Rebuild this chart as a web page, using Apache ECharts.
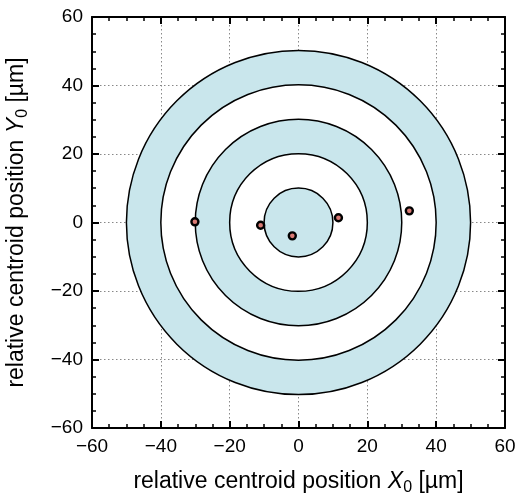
<!DOCTYPE html>
<html>
<head>
<meta charset="utf-8">
<script src="https://cdn.jsdelivr.net/npm/echarts@6/dist/echarts.min.js"></script>
<style>
  body { margin: 0; background: #fff; }
  #chart { width: 517px; height: 496px; }
</style>
</head>
<body>
<div id="chart"></div>
<script>
// ring radii (um), outer first so inner ones paint over
var ringRadii = [50, 40, 30, 20, 10];
var ringFills = ['#c9e6ec', '#ffffff', '#c9e6ec', '#ffffff', '#c9e6ec'];
// measured centroid positions [X0, Y0]
var centroidX = [-30.1, -11.0, -1.8, 11.6, 32.2];
var centroidY = [0.2, -0.8, -3.9, 1.4, 3.4];

var minus = function (v) { return String(v).replace('-', '\u2212'); };

var chart = echarts.init(document.getElementById('chart'));

function axisBase(pos, show) {
  return {
    type: 'value', position: pos, min: -60, max: 60, interval: 20,
    axisLine: { show: true, onZero: false, lineStyle: { color: '#000', width: 2 } },
    axisTick: { show: true, inside: true, length: 7, lineStyle: { color: '#000', width: 2 } },
    minorTick: { show: true, splitNumber: 4, length: 4, lineStyle: { color: '#000', width: 1.5 } },
    axisLabel: { show: show, color: '#000', fontSize: 19, fontFamily: 'Liberation Sans', formatter: minus, margin: 9 },
    splitLine: { show: show, lineStyle: { color: '#888', type: [1.5, 2.5], width: 1 } }
  };
}

var titleRich = {
  a: { fontSize: 23, fontFamily: 'Liberation Sans', color: '#000' },
  i: { fontSize: 23, fontFamily: 'Liberation Sans', fontStyle: 'italic', color: '#000' },
  s: { fontSize: 16, fontFamily: 'Liberation Sans', color: '#000', verticalAlign: 'bottom', padding: [12, 0, 0, 0] }
};

var xb = axisBase('bottom', true);
xb.name = '{a|relative centroid position }{i|X}{s|0}{a| [µm]}';
xb.nameLocation = 'middle';
xb.nameGap = 40;
xb.nameTextStyle = { rich: titleRich };

var yl = axisBase('left', true);
yl.name = '{a|relative centroid position }{i|Y}{s|0}{a| [µm]}';
yl.nameLocation = 'middle';
yl.nameGap = 61;
yl.nameTextStyle = { rich: titleRich };

chart.setOption({
  animation: false,
  grid: { left: 92, top: 17, width: 413, height: 411, outerBoundsMode: 'none', containLabel: false },
  xAxis: [xb, axisBase('top', false)],
  yAxis: [yl, axisBase('right', false)],
  series: [
    {
      type: 'custom',
      z: 2,
      data: ringRadii.map(function (r, i) { return [0, 0, r, i]; }),
      renderItem: function (params, api) {
        var c = api.coord([api.value(0), api.value(1)]);
        var rx = api.size([api.value(2), 0])[0];
        return {
          type: 'circle',
          shape: { cx: c[0], cy: c[1], r: rx },
          style: { fill: ringFills[api.value(3)], stroke: '#000', lineWidth: 1.5 }
        };
      }
    },
    {
      type: 'scatter',
      z: 3,
      symbolSize: 7,
      data: centroidX.map(function (x, i) { return [x, centroidY[i]]; }),
      itemStyle: { color: '#d97a74', borderColor: '#000', borderWidth: 2.4, opacity: 1 }
    }
  ]
});
</script>
</body>
</html>
